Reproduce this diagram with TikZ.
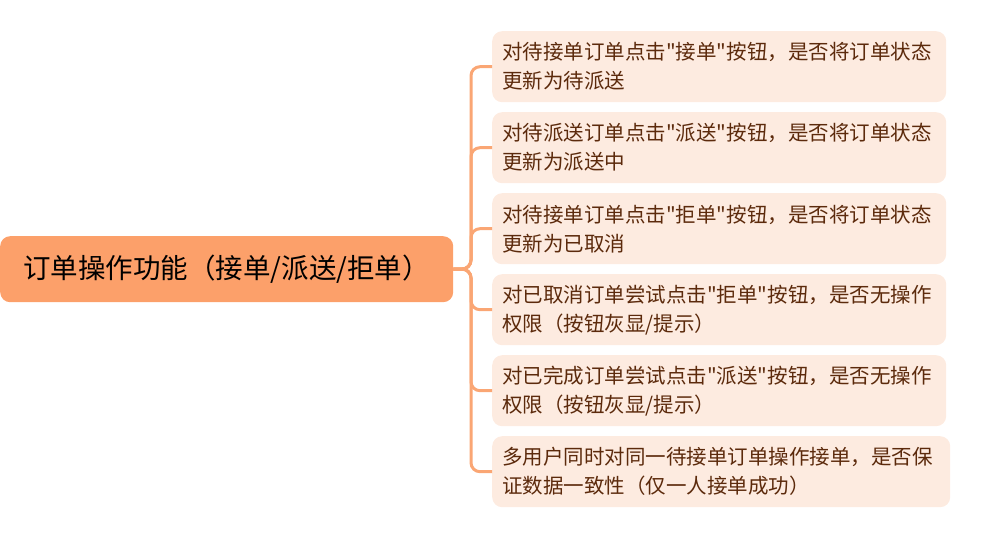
\documentclass[tikz,border=0pt]{standalone}
\usepackage{fontspec}
\newfontfamily\cjkfont{Noto Sans CJK SC}
\definecolor{rootfill}{RGB}{252,160,106}
\definecolor{leaffill}{RGB}{253,235,224}
\definecolor{leaftext}{RGB}{92,42,12}
\definecolor{linecol}{RGB}{250,166,116}
\tikzset{
  rootbox/.style={fill=rootfill, rounded corners=10pt, minimum width=453pt, minimum height=66pt, inner sep=0pt, font=\cjkfont\fontsize{27.5}{32}\selectfont, text=black, anchor=north west},
  leafbox/.style={fill=leaffill, rounded corners=10pt, minimum height=71pt, inner xsep=10pt, inner ysep=0pt, align=left, font=\cjkfont\fontsize{20.5}{29}\selectfont, text=leaftext, anchor=north west},
  branch/.style={draw=linecol, line width=3pt, rounded corners=9pt}
}
\begin{document}
\begin{tikzpicture}[x=1pt,y=-1pt]
\useasboundingbox (0,0) rectangle (985,538);
\node[rootbox] (root) at (0,236) {订单操作功能（接单/派送/拒单）};
\node[leafbox, text width=434pt] (l1) at (492,31) {对待接单订单点击"接单"按钮，是否将订单状态\\更新为待派送};
\node[leafbox, text width=434pt] (l2) at (492,112) {对待派送订单点击"派送"按钮，是否将订单状态\\更新为派送中};
\node[leafbox, text width=434pt] (l3) at (492,193) {对待接单订单点击"拒单"按钮，是否将订单状态\\更新为已取消};
\node[leafbox, text width=434pt] (l4) at (492,274) {对已取消订单尝试点击"拒单"按钮，是否无操作\\权限（按钮灰显/提示）};
\node[leafbox, text width=434pt] (l5) at (492,355) {对已完成订单尝试点击"派送"按钮，是否无操作\\权限（按钮灰显/提示）};
\node[leafbox, text width=438pt] (l6) at (492,436) {多用户同时对同一待接单订单操作接单，是否保\\证数据一致性（仅一人接单成功）};
\coordinate (fork) at (471,269);
\foreach \n in {l1,l2,l3,l4,l5,l6}{
  \draw[branch] (root.east) -- (fork) |- (\n.west);
}
\end{tikzpicture}
\end{document}
